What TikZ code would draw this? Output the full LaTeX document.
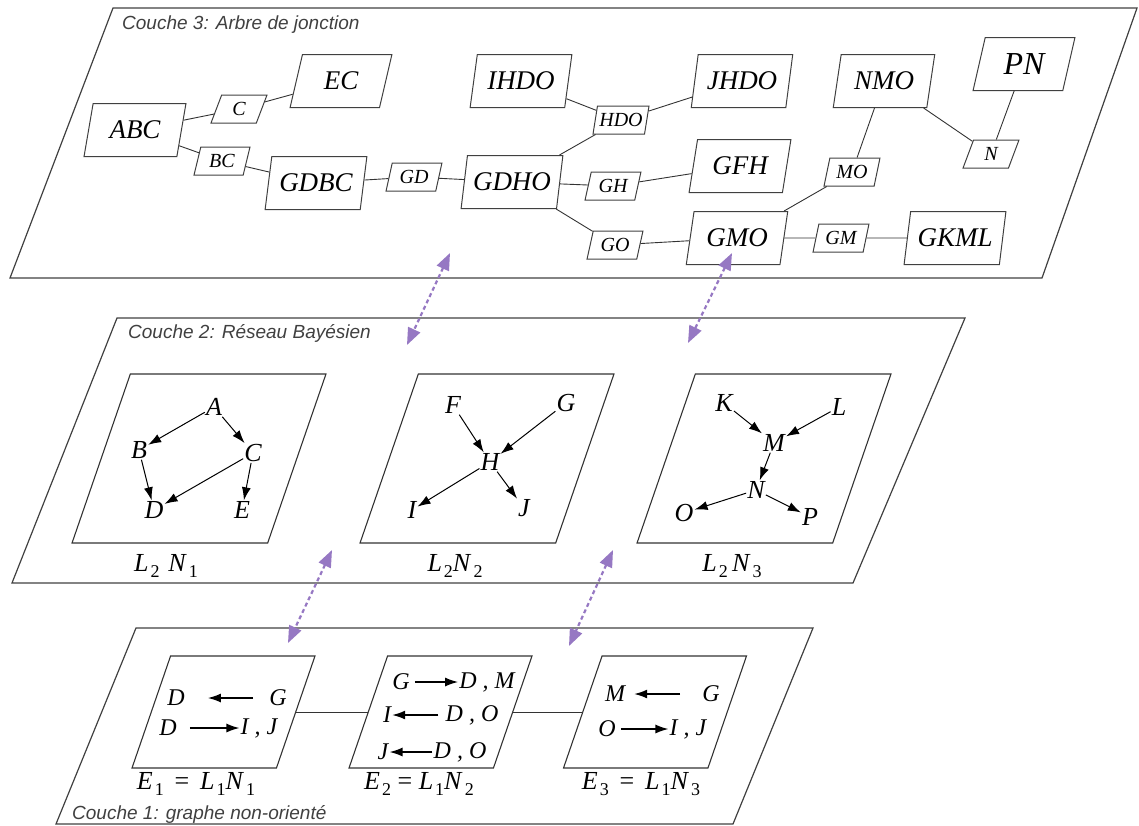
\documentclass[tikz,border=0pt]{standalone}
\usepackage{fontspec}
\setmainfont{Liberation Serif}
\setsansfont{Liberation Sans}
\usetikzlibrary{shapes.geometric,arrows.meta}

\definecolor{arrowpurple}{RGB}{150,120,195}
\newcommand{\idx}[2]{\textit{#1}\kern2pt\raisebox{-0.45ex}{\fontsize{18}{18}\selectfont #2}}

\tikzset{
    layer/.style={draw=black!75, line width=1.2pt},
    laylabel/.style={anchor=west, inner sep=0pt, text=black!75, font=\fontsize{19}{19}\selectfont\sffamily\itshape},
    cluster/.style={trapezium, trapezium left angle=73, trapezium right angle=107, trapezium stretches=true,
        draw=black!75, line width=1pt, inner sep=0pt, minimum width=102pt, minimum height=53pt,
        font=\fontsize{27}{27}\selectfont\itshape},
    sepset/.style={cluster, minimum width=56pt, minimum height=28pt, font=\fontsize{20}{20}\selectfont\itshape},
    jtedge/.style={draw=black!80, line width=0.9pt},
    netbox/.style={trapezium, trapezium left angle=67, trapezium right angle=113, trapezium stretches=true,
        draw=black!80, line width=1.1pt, minimum width=254pt, minimum height=169pt},
    ugbox/.style={netbox, trapezium left angle=70, trapezium right angle=110, minimum width=183pt, minimum height=112pt},
    var/.style={inner sep=1pt, font=\fontsize{26}{26}\selectfont\itshape},
    ugtext/.style={inner sep=1pt, font=\fontsize{24}{24}\selectfont\itshape},
    dep/.style={draw=black, line width=1pt, -{Latex[length=13pt,width=9pt]}},
    ugarrow/.style={draw=black, line width=1.5pt, -{Latex[length=13pt,width=9pt]}},
    boxlabel/.style={inner sep=0pt, font=\fontsize{26}{26}\selectfont},
    layerlink/.style={draw=arrowpurple, line width=2.2pt, dash pattern=on 4pt off 3pt,
        {Triangle[length=17pt,width=13pt]}-{Triangle[length=17pt,width=13pt]}}
}

\begin{document}
\begin{tikzpicture}[x=1pt,y=-1pt]
    \useasboundingbox (0,0) rectangle (1139,825);

    % layers
    \draw[layer] (113,8) -- (1137,8) -- (1042,278) -- (10,278) -- cycle;
    \draw[layer] (117,318) -- (965,318) -- (853,583) -- (12,583) -- cycle;
    \draw[layer] (136,628) -- (813,628) -- (733,824) -- (56,824) -- cycle;
    \node[laylabel] (lab3) at (122,25) {Couche 3: Arbre de jonction};
    \node[laylabel] (lab2) at (128,333) {Couche 2: Réseau Bayésien};
    \node[laylabel] (lab1) at (72,814) {Couche 1: graphe non-orienté};

    % couche 3: arbre de jonction
    \node[cluster] (ABC) at (135,130) {ABC};
    \node[cluster] (EC) at (341,81) {EC};
    \node[cluster] (GDBC) at (316,183) {GDBC};
    \node[cluster] (IHDO) at (521,81) {IHDO};
    \node[cluster] (JHDO) at (742,81) {JHDO};
    \node[cluster] (GDHO) at (512,182) {GDHO};
    \node[cluster] (GFH) at (740,166) {GFH};
    \node[cluster] (GMO) at (737,238) {GMO};
    \node[cluster] (NMO) at (884,81) {NMO};
    \node[cluster, font=\fontsize{32}{32}\selectfont\itshape] (PN) at (1024,64) {PN};
    \node[cluster] (GKML) at (955,238) {GKML};
    \node[sepset] (C) at (239,109) {C};
    \node[sepset] (BC) at (222,161) {BC};
    \node[sepset] (GD) at (414,177) {GD};
    \node[sepset] (HDO) at (621,120) {HDO};
    \node[sepset] (GH) at (613,186) {GH};
    \node[sepset] (GO) at (615,245) {GO};
    \node[sepset] (MO) at (852,172) {MO};
    \node[sepset] (N) at (991,154) {N};
    \node[sepset] (GM) at (841,238) {GM};
    \draw[jtedge] (ABC) -- (C) -- (EC);
    \draw[jtedge] (ABC) -- (BC) -- (GDBC) -- (GD) -- (GDHO);
    \draw[jtedge] (GDHO) -- (HDO) -- (IHDO);
    \draw[jtedge] (HDO) -- (JHDO);
    \draw[jtedge] (GDHO) -- (GH) -- (GFH);
    \draw[jtedge] (GDHO) -- (GO) -- (GMO);
    \draw[jtedge] (GMO) -- (MO) -- (NMO);
    \draw[jtedge] (GMO) -- (GM) -- (GKML);
    \draw[jtedge] (NMO) -- (N) -- (PN);

    % couche 2: reseau bayesien
    \node[netbox] (net1) at (199,458.5) {};
    \node[netbox] (net2) at (487,458.5) {};
    \node[netbox] (net3) at (764,458.5) {};
    \node[boxlabel] (net1lab) at (166,566) {\idx{L}{2}\,\,\idx{N}{1}};
    \node[boxlabel] (net2lab) at (455,566) {\idx{L}{2}\idx{N}{2}};
    \node[boxlabel] (net3lab) at (732,566) {\idx{L}{2}\,\idx{N}{3}};
    \node[var] (vA) at (214,407) {A};
    \node[var] (vB) at (139,450) {B};
    \node[var] (vC) at (253,453) {C};
    \node[var] (vD) at (154,510) {D};
    \node[var] (vE) at (242,510) {E};
    \draw[dep] (vA) -- (vB);
    \draw[dep] (vA) -- (vC);
    \draw[dep] (vB) -- (vD);
    \draw[dep] (vC) -- (vD);
    \draw[dep] (vC) -- (vE);
    \node[var] (vF) at (453,405) {F};
    \node[var] (vG) at (566,403) {G};
    \node[var] (vH) at (490,462) {H};
    \node[var] (vI) at (412,510) {I};
    \node[var] (vJ) at (524,508) {J};
    \draw[dep] (vF) -- (vH);
    \draw[dep] (vG) -- (vH);
    \draw[dep] (vH) -- (vI);
    \draw[dep] (vH) -- (vJ);
    \node[var] (vK) at (724,403) {K};
    \node[var] (vL) at (839,407) {L};
    \node[var] (vM) at (774,443) {M};
    \node[var] (vN) at (756,490) {N};
    \node[var] (vO) at (684,513) {O};
    \node[var] (vP) at (810,517) {P};
    \draw[dep] (vK) -- (vM);
    \draw[dep] (vL) -- (vM);
    \draw[dep] (vM) -- (vN);
    \draw[dep] (vN) -- (vO);
    \draw[dep] (vN) -- (vP);

    % couche 1: graphe non oriente
    \node[ugbox] (E1) at (223.5,712) {};
    \node[ugbox] (E2) at (440.5,712) {};
    \node[ugbox] (E3) at (655,712) {};
    \draw[jtedge] (E1) -- (E2) -- (E3);
    \node[boxlabel] (E1lab) at (196,784) {\idx{E}{1} \,=\, \idx{L}{1}\idx{N}{1}};
    \node[boxlabel] (E2lab) at (419,784) {\idx{E}{2} = \idx{L}{1}\idx{N}{2}};
    \node[boxlabel] (E3lab) at (641,784) {\idx{E}{3} \,=\, \idx{L}{1}\idx{N}{3}};
    \node[ugtext] (e1d) at (176,698) {D};
    \node[ugtext] (e1g) at (278,698) {G};
    \node[ugtext] (e1d2) at (168,728) {D};
    \node[ugtext] (e1ij) at (259,728) {I , J};
    \draw[ugarrow, shorten >=22pt, shorten <=15pt] (e1g) -- (e1d);
    \draw[ugarrow, shorten <=12pt] (e1d2) -- (e1ij);
    \node[ugtext] (e2g) at (401,682) {G};
    \node[ugtext] (e2dm) at (487,682) {D , M};
    \node[ugtext] (e2i) at (387,715) {I};
    \node[ugtext] (e2do) at (472,715) {D , O};
    \node[ugtext] (e2j) at (383,752) {J};
    \node[ugtext] (e2do2) at (460,752) {D , O};
    \draw[ugarrow, shorten <=4pt] (e2g) -- (e2dm);
    \draw[ugarrow, shorten <=6pt] (e2do) -- (e2i);
    \draw[ugarrow] (e2do2) -- (e2j);
    \node[ugtext] (e3m) at (615,694) {M};
    \node[ugtext] (e3g) at (711,694) {G};
    \node[ugtext] (e3o) at (607,729) {O};
    \node[ugtext] (e3ij) at (688,729) {I , J};
    \draw[ugarrow, shorten >=8pt, shorten <=21pt] (e3g) -- (e3m);
    \draw[ugarrow, shorten <=4pt] (e3o) -- (e3ij);

    % liens entre couches
    \coordinate (l32a) at (450,253);
    \coordinate (l32b) at (407,345);
    \coordinate (l32c) at (732,253);
    \coordinate (l32d) at (688,343);
    \coordinate (l21a) at (332,550);
    \coordinate (l21b) at (288,643);
    \coordinate (l21c) at (613,550);
    \coordinate (l21d) at (569,646);
    \draw[layerlink] (l32a) -- (l32b);
    \draw[layerlink] (l32c) -- (l32d);
    \draw[layerlink] (l21a) -- (l21b);
    \draw[layerlink] (l21c) -- (l21d);
\end{tikzpicture}
\end{document}
